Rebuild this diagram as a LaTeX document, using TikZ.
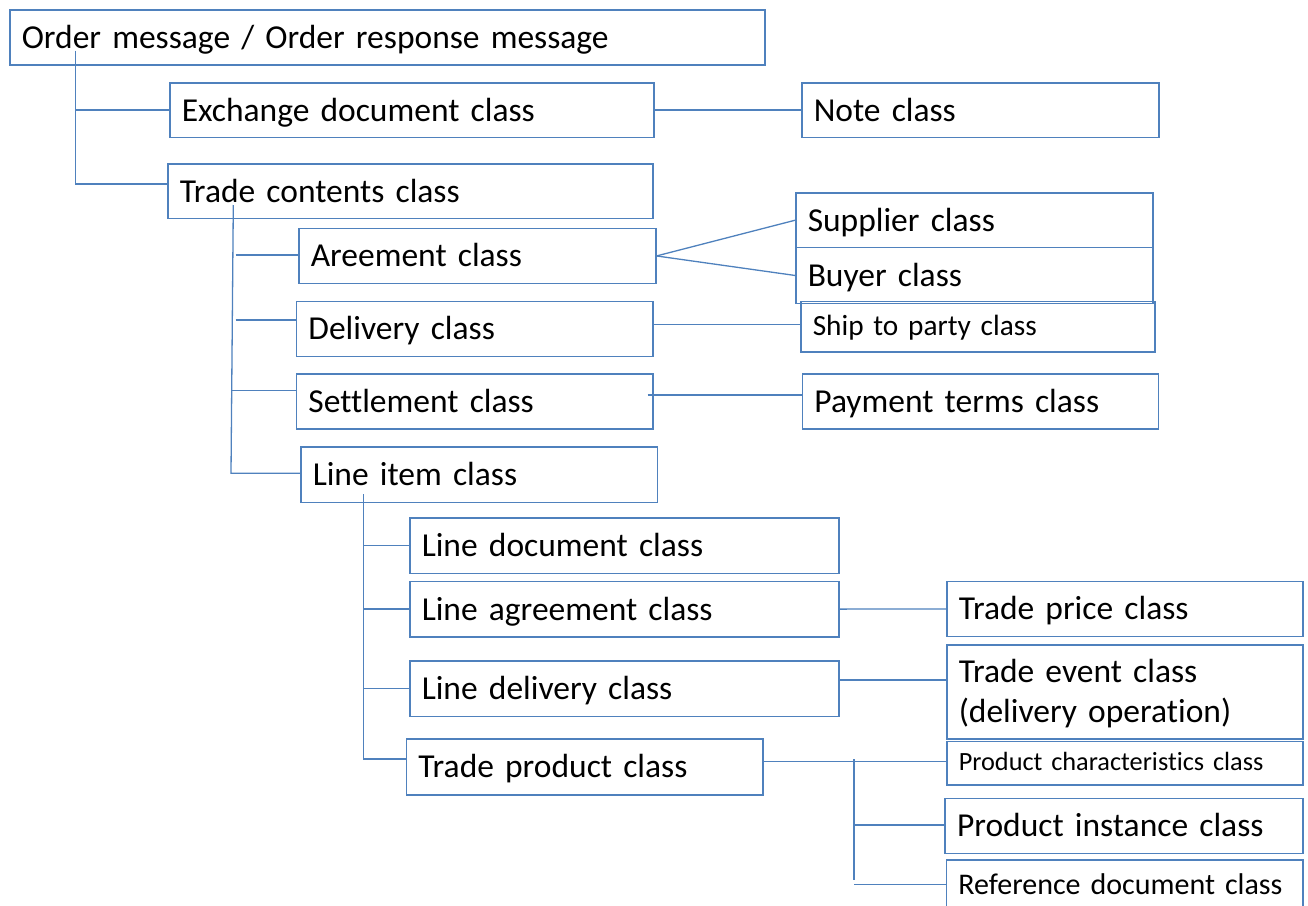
\documentclass[tikz,border=0pt]{standalone}
\usepackage{fontspec}
\setmainfont{Carlito}[Ligatures=NoCommon]
\definecolor{lc}{RGB}{79,129,189}
\newcommand\mkxs{12}
\newcommand\mkbox[7][]{%
  \pgfmathsetmacro\mkH{#6-#4}%
  \pgfmathsetmacro\mkT{#5-#3-2*\mkxs}%
  \node[box,#1,minimum height=\mkH pt,text width=\mkT pt] (#2) at (#3,#4) {#7};}
\begin{document}
\begin{tikzpicture}[x=1pt,y=-1pt,
  box/.style={draw=lc,line width=1.5pt,anchor=north west,inner xsep=\mkxs pt,inner ysep=0pt,
    align=left,font=\fontsize{33.5}{40}\selectfont,text height=30pt,text depth=8pt},
  shipf/.style={font=\fontsize{29.3}{35}\selectfont,text height=26.4pt,text depth=8pt},
  pcf/.style={font=\fontsize{26.3}{32}\selectfont,text height=21.6pt,text depth=8pt},
  reff/.style={font=\fontsize{30}{36}\selectfont,text height=21pt,text depth=8pt},
  conn/.style={draw=lc,line width=1.3pt}]
\useasboundingbox (0,0) rectangle (1308,905);
% boxes
\mkbox{A}{9}{9}{764}{64}{Order message / Order response message}
\mkbox{B}{169}{82}{653}{136.5}{Exchange document class}
\mkbox{C}{801}{82}{1158}{136.5}{Note class}
\mkbox{D}{167}{163}{652}{217.7}{Trade contents class}
\mkbox{E}{298}{227.7}{655}{282.7}{Areement class}
\mkbox{F}{795}{192.3}{1152}{246.7}{Supplier class}
\mkbox{G}{795}{246.7}{1152}{302.7}{Buyer class}
\mkbox{H}{295.7}{300.7}{652.3}{355.7}{Delivery class}
\mkbox[shipf]{I}{800}{300.7}{1154.3}{351}{Ship to party class}
\mkbox{J}{295.7}{373.3}{652.3}{428.3}{Settlement class}
\mkbox{K}{801.7}{373.3}{1157.7}{428.3}{Payment terms class}
\mkbox{L}{300}{446}{656.7}{501.7}{Line item class}
\mkbox{M}{409}{517}{838}{572.7}{Line document class}
\mkbox{N}{409}{580.7}{838}{636}{Line agreement class}
\mkbox{O}{409}{660}{838}{715.7}{Line delivery class}
\mkbox{P}{405.7}{738}{762}{794}{Trade product class}
\mkbox{Q}{946}{580.7}{1302.3}{635.7}{Trade price class}
\mkbox[text height=30pt,text depth=49pt]{R}{946}{644}{1302.3}{738.3}{Trade event class\\(delivery operation)}
\mkbox[pcf]{S}{946}{740.7}{1302.3}{784.3}{Product characteristics class}
\mkbox{T}{944.3}{797.7}{1302}{852.7}{Product instance class}
\mkbox[reff]{U}{945.7}{859.3}{1302.3}{915}{Reference document class}
% connector points
\coordinate (a0) at (75.7,50.7);
\coordinate (a1) at (75.7,184);
\coordinate (d0) at (233.3,205);
\coordinate (d1) at (231,473.3);
\coordinate (e0) at (235.7,255);
\coordinate (h0) at (235.7,320);
\coordinate (j0) at (231.7,390.7);
\coordinate (hi) at (652.3,324.3);
\coordinate (jk) at (647.7,395);
\coordinate (l0) at (363.3,494.3);
\coordinate (l1) at (363.3,759);
\coordinate (or) at (838,680);
\coordinate (ps) at (762,761.7);
\coordinate (t0) at (854,759);
\coordinate (t1) at (854,880);
\coordinate (tt) at (854,825);
\coordinate (tu) at (854,884.3);
% connectors
\draw[conn] (a0) -- (a1) -- (a1 -| D.west);
\draw[conn] (a0 |- B.west) -- (B.west);
\draw[conn] (B.east) -- (C.west);
\draw[conn] (d0) -- (d1) -- (d1 -| L.west);
\draw[conn] (e0) -- (e0 -| E.west);
\draw[conn] (h0) -- (h0 -| H.west);
\draw[conn] (j0) -- (j0 -| J.west);
\draw[conn] (E.east) -- (F.west);
\draw[conn] (E.east) -- (G.west);
\draw[conn] (hi) -- (hi -| I.west);
\draw[conn] (jk) -- (jk -| K.west);
\draw[conn] (l0) -- (l1) -- (l1 -| P.west);
\draw[conn] (l0 |- M.west) -- (M.west);
\draw[conn] (l0 |- N.west) -- (N.west);
\draw[conn] (l0 |- O.west) -- (O.west);
\draw[conn] (N.east) -- (Q.west);
\draw[conn] (or) -- (or -| R.west);
\draw[conn] (ps) -- (ps -| S.west);
\draw[conn] (t0) -- (t1);
\draw[conn] (tt) -- (tt -| T.west);
\draw[conn] (tu) -- (tu -| U.west);
\end{tikzpicture}
\end{document}
